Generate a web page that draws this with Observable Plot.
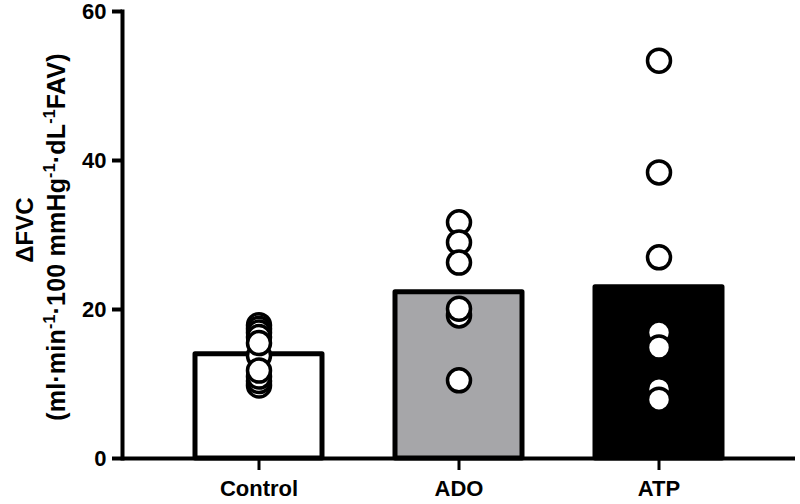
<!DOCTYPE html>
<html><head><meta charset="utf-8">
<script src="https://cdn.jsdelivr.net/npm/d3@7"></script>
<script src="https://cdn.jsdelivr.net/npm/@observablehq/plot@0.6"></script>
<style>body{margin:0;background:#fff}</style>
</head><body><div id="chart"></div>
<script>
const groups = ["Control", "ADO", "ATP"];
const means = [14.0, 22.3, 23.0];
const barColors = ["#ffffff", "#a6a6a9", "#000000"];
const controlPoints = [17.9, 17.4, 16.9, 16.3, 9.8, 10.4, 11.0, 13.8, 15.5, 11.8];
const adoPoints = [31.7, 29.0, 26.3, 19.2, 20.1, 10.5];
const atpPoints = [53.4, 38.4, 27.0, 16.9, 14.9, 9.3, 7.9];
const yTicks = [0, 20, 40, 60];

const bars = groups.map((g, i) => ({group: g, mean: means[i], color: barColors[i]}));
const points = [
  ...controlPoints.map(v => ({group: "Control", value: v})),
  ...adoPoints.map(v => ({group: "ADO", value: v})),
  ...atpPoints.map(v => ({group: "ATP", value: v}))
];

const chart = Plot.plot({
  width: 800, height: 504,
  marginLeft: 122, marginRight: 5, marginTop: 11, marginBottom: 46,
  style: {fontFamily: "'Liberation Sans', Arial, sans-serif", background: "white", color: "black", overflow: "visible"},
  x: {type: "band", domain: groups, range: [158, 758], paddingInner: 0.365, paddingOuter: 0.1825, label: null},
  y: {domain: [0, 60], label: null},
  color: {type: "identity"},
  marks: [
    Plot.barY(bars, {x: "group", y: "mean", fill: "color", stroke: "black", strokeWidth: 5, strokeLinejoin: "round"}),
    Plot.ruleY([0], {strokeWidth: 4}),
    Plot.frame({anchor: "left", strokeWidth: 4}),
    Plot.axisY({ticks: yTicks, tickSize: 10, tickPadding: 6, strokeWidth: 4, fontSize: 22, fontWeight: "bold", label: null}),
    Plot.axisX({tickSize: 12, tickPadding: 10, strokeWidth: 3, fontSize: 22, fontWeight: "bold", label: null}),
    Plot.dot(points, {x: "group", y: "value", r: 11.5, fill: "white", stroke: "black", strokeWidth: 3.5})
  ]
});
document.getElementById("chart").appendChild(chart);

// y-axis title with superscripts
const svg = d3.select(chart);
const g = svg.append("g")
  .attr("font-family", "'Liberation Sans', Arial, sans-serif")
  .attr("font-weight", "bold")
  .attr("fill", "black");
g.append("text")
  .attr("transform", "translate(33,230) rotate(-90)")
  .attr("text-anchor", "middle")
  .attr("font-size", 24)
  .text("ΔFVC");
const t2 = g.append("text")
  .attr("transform", "translate(65,237) rotate(-90)")
  .attr("text-anchor", "middle")
  .attr("font-size", 25)
  .attr("letter-spacing", 0.2);
const parts = [["(ml·min", false], ["-1", true], ["·100 mmHg", false], ["-1", true], ["·dL", false], ["-1", true], ["FAV)", false]];
let sup = false;
for (const [txt, isSup] of parts) {
  const ts = t2.append("tspan").text(txt);
  if (isSup && !sup) { ts.attr("dy", -10).attr("font-size", 16); sup = true; }
  else if (isSup) { ts.attr("font-size", 16); }
  else if (!isSup && sup) { ts.attr("dy", 10); sup = false; }
}
</script>
</body></html>
